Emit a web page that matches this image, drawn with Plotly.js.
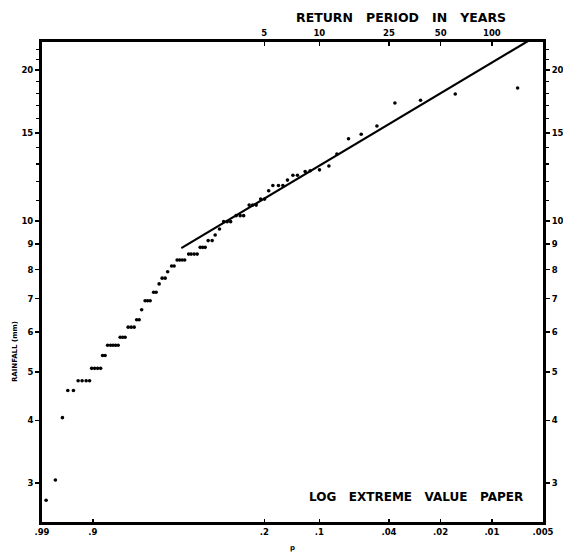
<!DOCTYPE html>
<html>
<head>
<meta charset="utf-8">
<script src="https://cdn.plot.ly/plotly-3.0.1.min.js"></script>
<style>html,body{margin:0;padding:0;background:#fff;}#chart{width:563px;height:552px;}</style>
</head>
<body>
<div id="chart"></div>
<script>
// Gumbel reduced variate of each plotted observation (as read from the paper)
const reducedVariate = [-1.471,-1.345,-1.249,-1.176,-1.099,
  -1.035,-0.981,-0.926,-0.879,
  -0.851,-0.811,-0.770,-0.729,
  -0.702,-0.668,
  -0.634,-0.593,-0.559,-0.525,-0.490,
  -0.463,-0.429,-0.395,
  -0.354,-0.313,-0.272,
  -0.238,-0.204,
  -0.170,
  -0.123,-0.089,-0.054,
  -0.007,0.027,
  0.068,
  0.109,0.150,
  0.184,
  0.238,0.272,
  0.313,0.347,0.381,0.416,
  0.470,0.504,0.545,0.586,
  0.627,0.661,0.695,
  0.736,0.790,
  0.831,
  0.890,
  0.947,0.995,1.042,
  1.117,1.172,1.219,
  1.294,1.342,1.390,
  1.451,1.505,
  1.560,1.617,1.693,1.753,1.816,1.890,1.952,2.057,2.125,2.252,2.380,2.489,
  2.647,2.820,3.034,3.279,3.628,4.101,4.950];
const rainfall = [2.77,3.04,4.05,4.59,4.59,
  4.80,4.80,4.80,4.80,
  5.08,5.08,5.08,5.08,
  5.39,5.39,
  5.65,5.65,5.65,5.65,5.65,
  5.86,5.86,5.86,
  6.14,6.14,6.14,
  6.35,6.35,
  6.65,
  6.93,6.93,6.93,
  7.21,7.21,
  7.49,
  7.69,7.69,
  7.92,
  8.13,8.13,
  8.36,8.36,8.36,8.36,
  8.59,8.59,8.59,8.59,
  8.86,8.86,8.86,
  9.14,9.14,
  9.38,
  9.64,
  9.97,9.97,9.97,
  10.25,10.25,10.25,
  10.76,10.76,10.76,
  11.06,11.06,
  11.49,11.77,11.77,11.77,12.07,12.34,12.34,12.55,12.60,12.65,12.88,13.61,
  14.60,14.90,15.48,17.20,17.42,17.93,18.43];

// fitted line (reduced variate, rainfall)
const fitVariate = [0.37, 5.30];
const fitRainfall = [8.83, 23.85];

// axis labels
const probValues = [0.99, 0.9, 0.2, 0.1, 0.04, 0.02, 0.01, 0.005];
const probLabels = ['.99', '.9', '.2', '.1', '.04', '.02', '.01', '.005'];
const returnPeriods = [5, 10, 25, 50, 100];
const returnLabels = ['5', '10', '25', '50', '100'];
const rainTicks = [3, 4, 5, 6, 7, 8, 9, 10, 15, 20];
const rainMinor = [11, 12, 13, 14, 16, 17, 18, 19, 21, 22];

// exceedance probability -> Gumbel reduced variate
const gumbel = p => -Math.log(-Math.log(1 - p));

const xRange = [gumbel(0.99), gumbel(0.005)];
const yRange = [Math.log10(2.507), Math.log10(22.77)];

const FONT = 'DejaVu Sans, Liberation Sans, Arial, sans-serif';
const tickFont = {family: FONT, size: 8.5, color: '#000', weight: 700};

const traces = [
  {x: reducedVariate, y: rainfall, type: 'scatter', mode: 'markers',
   marker: {color: '#000', size: 3.6}, hoverinfo: 'skip', showlegend: false},
  {x: fitVariate, y: fitRainfall, type: 'scatter', mode: 'lines',
   line: {color: '#000', width: 2.2}, hoverinfo: 'skip', showlegend: false},
  {x: [0], y: [10], xaxis: 'x2', yaxis: 'y2', type: 'scatter', mode: 'markers',
   marker: {opacity: 0}, hoverinfo: 'skip', showlegend: false}
];

const yCommon = {
  type: 'log', range: yRange, tickmode: 'array', tickvals: rainTicks,
  ticktext: rainTicks.map(String), ticks: 'outside', ticklen: 4, tickwidth: 1.5,
  tickcolor: '#000', showline: true, linewidth: 3, linecolor: '#000',
  showgrid: false, zeroline: false, tickfont: tickFont,
  minor: {tickmode: 'array', tickvals: rainMinor, ticks: 'outside', ticklen: 3,
          tickwidth: 1.2, tickcolor: '#000', showgrid: false}
};

const layout = {
  width: 563, height: 552,
  margin: {l: 42, r: 20, t: 42, b: 30, pad: 0},
  paper_bgcolor: '#fff', plot_bgcolor: '#fff',
  showlegend: false,
  xaxis: {
    range: xRange, tickmode: 'array', tickvals: probValues.map(gumbel), ticktext: probLabels,
    ticks: 'inside', ticklen: 3, tickwidth: 1.2, tickcolor: '#000',
    showline: true, linewidth: 3, linecolor: '#000', showgrid: false, zeroline: false,
    tickfont: tickFont
  },
  xaxis2: {
    range: xRange, overlaying: 'x', side: 'top', anchor: 'y',
    tickmode: 'array', tickvals: returnPeriods.map(T => gumbel(1 / T)), ticktext: returnLabels,
    ticks: 'inside', ticklen: 4, tickwidth: 1.2, tickcolor: '#000',
    showline: true, linewidth: 3, linecolor: '#000', showgrid: false, zeroline: false,
    tickfont: tickFont
  },
  yaxis: Object.assign({}, yCommon, {side: 'left'}),
  yaxis2: Object.assign({}, yCommon, {side: 'right', overlaying: 'y', anchor: 'x'}),
  annotations: [
    {text: 'RETURN\u00a0\u00a0\u00a0PERIOD\u00a0\u00a0\u00a0IN\u00a0\u00a0\u00a0YEARS', xref: 'paper', yref: 'paper',
     x: 0.717, y: 1.052, xanchor: 'center', yanchor: 'middle', showarrow: false,
     font: {family: FONT, size: 12.5, color: '#000', weight: 700}},
    {text: 'LOG\u00a0\u00a0\u00a0EXTREME\u00a0\u00a0\u00a0VALUE\u00a0\u00a0\u00a0PAPER', xref: 'paper', yref: 'paper',
     x: 0.747, y: 0.052, xanchor: 'center', yanchor: 'middle', showarrow: false,
     font: {family: FONT, size: 12, color: '#000', weight: 700}},
    {text: 'RAINFALL (mm)', xref: 'paper', yref: 'paper', textangle: -90,
     x: -0.055, y: 0.355, xanchor: 'center', yanchor: 'middle', showarrow: false,
     font: {family: FONT, size: 7, color: '#000', weight: 700}},
    {text: 'p', xref: 'paper', yref: 'paper',
     x: 0.5, y: -0.055, xanchor: 'center', yanchor: 'middle', showarrow: false,
     font: {family: FONT, size: 7, color: '#000', weight: 700}}
  ]
};

Plotly.newPlot('chart', traces, layout, {staticPlot: true, displayModeBar: false});
</script>
</body>
</html>
